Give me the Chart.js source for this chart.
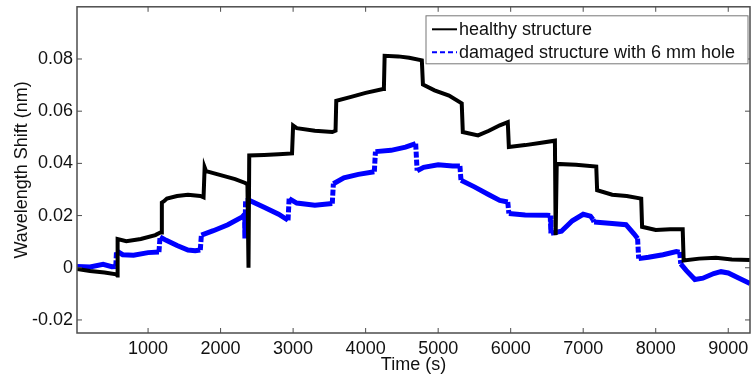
<!DOCTYPE html>
<html>
<head>
<meta charset="utf-8">
<style>
  html, body { margin: 0; padding: 0; background: #fff; }
  #wrap { width: 751px; height: 379px; }
</style>
</head>
<body>
<div id="wrap"><canvas id="grafico"></canvas></div>

<script src="https://cdn.jsdelivr.net/npm/chart.js"></script>
<script>
  // valores (tempo em s, deslocamento em nm)
  const healthyTime = [20, 200, 400, 560, 575, 580, 700, 900, 1100, 1170, 1180, 1190, 1220, 1260, 1400, 1550, 1720, 1765,
    1780, 1800, 2000, 2200, 2340, 2370, 2385, 2395, 2600, 2800, 2985, 3000, 3050, 3300, 3540, 3585, 3595, 3800, 4000,
    4240, 4252, 4262, 4450, 4600, 4775, 4790, 4950, 5150, 5325, 5340, 5550, 5700, 5850, 5960, 5975, 6200, 6400, 6610,
    6620, 6635, 6900, 7180, 7192, 7400, 7600, 7800, 7812, 8000, 8200, 8372, 8385, 8600, 8830, 9050, 9300];
  const healthyShift = [-0.0005, -0.0012, -0.0018, -0.0025, -0.003, 0.011, 0.0102, 0.011, 0.0125, 0.0135, 0.0135, 0.025,
    0.0255, 0.0265, 0.0275, 0.028, 0.0275, 0.027, 0.0385, 0.037, 0.0355, 0.034, 0.0325, 0.032, 0.0, 0.043, 0.0432,
    0.0435, 0.0438, 0.0545, 0.0535, 0.0525, 0.052, 0.0525, 0.064, 0.0655, 0.067, 0.0685, 0.069, 0.0812, 0.081, 0.0805,
    0.0795, 0.0702, 0.068, 0.066, 0.063, 0.052, 0.0507, 0.0525, 0.0546, 0.0558, 0.0463, 0.047, 0.0478, 0.0487, 0.0125,
    0.0398, 0.0395, 0.0388, 0.0297, 0.028, 0.0275, 0.0265, 0.0157, 0.0145, 0.0148, 0.0148, 0.0028, 0.0035, 0.0038,
    0.0032, 0.003];

  const damagedTime = [20, 200, 380, 500, 555, 565, 650, 800, 1000, 1150, 1165, 1250, 1400, 1550, 1650, 1720, 1735, 1900,
    2100, 2300, 2330, 2335, 2345, 2400, 2600, 2800, 2930, 2945, 3050, 3300, 3540, 3555, 3700, 3900, 4120, 4135, 4350,
    4550, 4690, 4710, 4800, 5000, 5200, 5300, 5315, 5500, 5700, 5850, 5960, 5975, 6200, 6500, 6545, 6555, 6700, 6850,
    7000, 7100, 7135, 7150, 7400, 7590, 7700, 7750, 7765, 7900, 8100, 8285, 8330, 8345, 8420, 8540, 8650, 8800, 8900,
    9000, 9150, 9300];
  const damagedShift = [0.0005, 0.0003, 0.0013, 0.0004, 0.0005, 0.0065, 0.005, 0.0048, 0.0058, 0.006, 0.0118, 0.0105,
    0.0085, 0.0068, 0.0065, 0.0068, 0.0125, 0.0142, 0.0165, 0.0195, 0.0205, 0.0112, 0.0258, 0.0258, 0.0232, 0.0205,
    0.0182, 0.0265, 0.0248, 0.024, 0.0246, 0.0322, 0.0345, 0.0358, 0.0368, 0.0445, 0.045, 0.0462, 0.0476, 0.0372,
    0.0385, 0.0395, 0.039, 0.039, 0.0335, 0.031, 0.028, 0.0258, 0.0252, 0.0208, 0.0202, 0.0201, 0.02, 0.0132, 0.014,
    0.018, 0.0205, 0.0198, 0.0185, 0.0175, 0.017, 0.0165, 0.013, 0.0112, 0.0035, 0.004, 0.005, 0.0062, 0.006, 0.0015,
    -0.001, -0.0045, -0.004, -0.0022, -0.0015, -0.002, -0.004, -0.006];

  const xTicks = [1000, 2000, 3000, 4000, 5000, 6000, 7000, 8000, 9000];
  const yTicks = [-0.02, 0, 0.02, 0.04, 0.06, 0.08];
  const seriesNames = ["healthy structure", "damaged structure with 6 mm hole"];

  const FONT = "'Liberation Sans', Arial, Helvetica, sans-serif";
  const AXIS_COLOR = "#4d4d4d";

  // moldura e marcas para dentro, estilo MATLAB
  const caixaPlugin = {
    id: "caixa",
    afterDraw(chart) {
      const { ctx, chartArea: a, scales } = chart;
      const tl = 5;
      ctx.save();
      ctx.strokeStyle = AXIS_COLOR;
      ctx.lineWidth = 1.5;
      ctx.strokeRect(a.left, a.top, a.right - a.left, a.bottom - a.top);
      ctx.lineWidth = 1;
      ctx.beginPath();
      scales.x.ticks.forEach(t => {
        const px = scales.x.getPixelForValue(t.value);
        ctx.moveTo(px, a.bottom); ctx.lineTo(px, a.bottom - tl);
        ctx.moveTo(px, a.top); ctx.lineTo(px, a.top + tl);
      });
      scales.y.ticks.forEach(t => {
        const py = scales.y.getPixelForValue(t.value);
        ctx.moveTo(a.left, py); ctx.lineTo(a.left + tl, py);
        ctx.moveTo(a.right, py); ctx.lineTo(a.right - tl, py);
      });
      ctx.stroke();

      // legenda dentro do gráfico
      const bx = a.right - 324, by = a.top + 9, bw = 322, bh = 48;
      ctx.fillStyle = "#fff";
      ctx.fillRect(bx, by, bw, bh);
      ctx.strokeStyle = "#777";
      ctx.lineWidth = 1;
      ctx.strokeRect(bx, by, bw, bh);
      const rows = [by + 13.5, by + 36.5];
      const cores = ["#000000", "#0000ff"];
      rows.forEach((ry, i) => {
        ctx.beginPath();
        ctx.strokeStyle = cores[i];
        ctx.lineWidth = 2;
        ctx.setLineDash(i === 1 ? [5, 3] : []);
        ctx.moveTo(bx + 6, ry);
        ctx.lineTo(bx + 31, ry);
        ctx.stroke();
        ctx.setLineDash([]);
        ctx.fillStyle = "#111";
        ctx.font = "18px " + FONT;
        ctx.textBaseline = "middle";
        ctx.textAlign = "left";
        ctx.fillText(seriesNames[i], bx + 33, ry + 1);
      });
      ctx.restore();
    }
  };

  const ctx = document.getElementById("grafico").getContext("2d");

  new Chart(ctx, {
    type: "line",
    data: {
      datasets: [
        {
          label: seriesNames[0],
          data: healthyTime.map((t, i) => ({ x: t, y: healthyShift[i] })),
          borderColor: "#000000",
          borderWidth: 4,
          pointRadius: 0,
          tension: 0,
        },
        {
          label: seriesNames[1],
          data: damagedTime.map((t, i) => ({ x: t, y: damagedShift[i] })),
          borderColor: "#0000ff",
          borderWidth: 5,
          pointRadius: 0,
          tension: 0,
          segment: {
            borderDash: c => Math.abs(c.p1.parsed.x - c.p0.parsed.x) < 30 ? [6, 2] : undefined,
          },
        }
      ]
    },
    options: {
      responsive: true,
      maintainAspectRatio: false,
      animation: false,
      layout: { padding: { top: 6, right: 1, left: 0, bottom: 0 } },
      plugins: {
        legend: { display: false },
        tooltip: { enabled: false },
      },
      scales: {
        x: {
          type: "linear",
          min: 20,
          max: 9300,
          afterBuildTicks: s => { s.ticks = xTicks.map(v => ({ value: v })); },
          afterFit: s => { s.height = 46; },
          grid: { display: false },
          border: { display: false },
          ticks: {
            color: "#111",
            font: { family: FONT, size: 18 },
            padding: -3,
            maxRotation: 0,
            autoSkip: false,
            callback: v => String(v),
          },
          title: {
            display: true,
            text: "Time (s)",
            color: "#111",
            font: { family: FONT, size: 18 },
            padding: { top: 0, bottom: 3 },
          }
        },
        y: {
          min: -0.025,
          max: 0.1,
          afterBuildTicks: s => { s.ticks = yTicks.map(v => ({ value: v })); },
          afterFit: s => { s.width = 77; },
          grid: { display: false },
          border: { display: false },
          ticks: {
            color: "#111",
            font: { family: FONT, size: 18 },
            padding: -4,
            autoSkip: false,
            callback: v => String(Number(v.toFixed(2))),
          },
          title: {
            display: true,
            text: "Wavelength Shift (nm)",
            color: "#111",
            font: { family: FONT, size: 18 },
            padding: { top: 11, bottom: 0 },
          }
        }
      }
    },
    plugins: [caixaPlugin],
  });
</script>
</body>
</html>
